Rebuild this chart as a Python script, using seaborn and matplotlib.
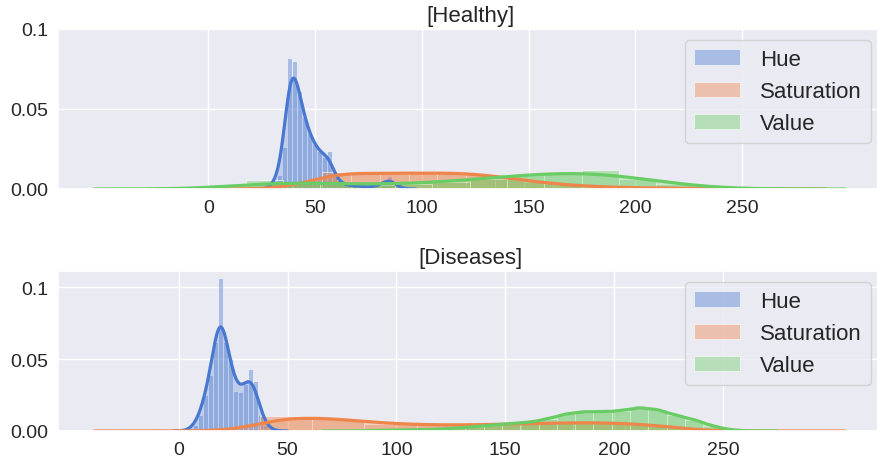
import matplotlib
matplotlib.use("Agg")
import matplotlib.pyplot as plt
import numpy as np
import seaborn as sns


# bar centres and bar heights (density units)
HEALTHY_HUE_X = [30.7, 33.0, 35.4, 37.7, 40.1, 42.4, 44.8, 47.1, 49.5, 51.8, 54.2, 56.5, 58.9,
                 61.2, 63.6, 65.9, 68.3, 70.6, 73.0, 75.3, 77.7, 80.0, 82.4, 84.7, 87.1, 89.4]
HEALTHY_HUE_Y = [0.004, 0.009, 0.026, 0.082, 0.080, 0.061, 0.045, 0.035, 0.028, 0.024, 0.020, 0.024, 0.008,
                 0.004, 0.003, 0.002, 0.002, 0.002, 0.001, 0.001, 0.002, 0.002, 0.004, 0.008, 0.003, 0.001]

HEALTHY_SAT_X = [33.0, 46.5, 60.0, 73.5, 87.0, 100.5, 114.0, 127.5, 141.0,
                 154.5, 168.0, 181.5, 195.0, 208.5, 222.0, 235.5, 249.0]
HEALTHY_SAT_Y = [0.0004, 0.0040, 0.0105, 0.0095, 0.0100, 0.0098, 0.0102, 0.0092, 0.0068,
                 0.0042, 0.0025, 0.0014, 0.0009, 0.0006, 0.0004, 0.0003, 0.0003]

HEALTHY_VAL_X = [26.2, 43.7, 61.2, 78.7, 96.2, 113.6, 131.1, 148.6, 166.1, 183.6, 201.1, 218.6]
HEALTHY_VAL_Y = [0.0058, 0.0040, 0.0030, 0.0025, 0.0032, 0.0045, 0.0065, 0.0095, 0.0105, 0.0119, 0.0065, 0.0030]

DISEASED_HUE_X = [5.3, 7.6, 9.9, 12.2, 14.5, 16.8, 19.1, 21.4, 23.7, 26.0, 28.3, 30.6,
                  32.9, 35.2, 37.5, 39.8, 42.1]
DISEASED_HUE_Y = [0.001, 0.004, 0.011, 0.025, 0.039, 0.062, 0.1065, 0.062, 0.050, 0.028, 0.027, 0.033,
                  0.043, 0.035, 0.011, 0.004, 0.001]

DISEASED_SAT_X = [49.4, 73.3, 97.3, 121.2, 145.2, 169.1, 193.1, 217.0]
DISEASED_SAT_Y = [0.0102, 0.0084, 0.0050, 0.0040, 0.0045, 0.0055, 0.0060, 0.0045]

DISEASED_VAL_X = [85.5, 93.9, 102.3, 110.7, 119.1, 127.5, 135.9, 144.3, 152.7, 161.1, 169.5,
                  177.9, 186.3, 194.7, 203.1, 211.5, 219.9, 228.3, 236.7, 245.1, 253.5]
DISEASED_VAL_Y = [0.0003, 0.0004, 0.0006, 0.0008, 0.0012, 0.0020, 0.0030, 0.0042, 0.0052, 0.0060, 0.0085,
                  0.0120, 0.0135, 0.0135, 0.0140, 0.0165, 0.0150, 0.0110, 0.0080, 0.0035, 0.0008]

LABELS = ["Hue", "Saturation", "Value"]
YTICKS = [0, 0.05, 0.1]
YTICK_LABELS = ["0.00", "0.05", "0.1"]
XTICKS = [0, 50, 100, 150, 200, 250]

# bin width, kde bandwidth and kde extent for each series
HEALTHY_KDE = [(2.35, 2.5, (23, 97)), (13.5, 11, (-10, 289)), (17.5, 22, (-53.6, 298.4))]
DISEASED_KDE = [(2.3, 2.8, (-2.5, 50)), (23.95, 15, (-38.7, 306)), (8.4, 4.5, (66, 275))]

sns.set_theme(style="darkgrid", palette="muted")
plt.rcParams["font.family"] = ["Liberation Sans", "DejaVu Sans"]
COLORS = sns.color_palette("muted")[:3]


def draw_panel(ax, series, settings, title, xlim, ylim):
    handles = []
    for (xs, ys), (width, bw, clip), color in zip(series, settings, COLORS):
        xs = np.asarray(xs, dtype=float)
        ys = np.asarray(ys, dtype=float)
        sd = np.sqrt(np.cov(xs, aweights=ys))
        sns.histplot(
            x=xs, weights=ys, binwidth=width,
            binrange=(xs[0] - width / 2, xs[-1] + width / 2),
            stat="count", kde=True,
            kde_kws=dict(bw_method=bw / sd, cut=40, clip=clip, gridsize=500),
            line_kws=dict(lw=2.3),
            color=color, alpha=0.4, edgecolor="white", linewidth=0.4, ax=ax,
        )
        handles.append(ax.containers[-1])
        line = ax.lines[-1]
        lx, ly = line.get_data()
        ax.fill_between(lx, ly, color=color, alpha=0.25, linewidth=0)

    ax.set_xlim(*xlim)
    ax.set_ylim(*ylim)
    ax.set_xticks(XTICKS)
    ax.set_yticks(YTICKS)
    ax.set_yticklabels(YTICK_LABELS)
    ax.tick_params(labelsize=14, length=0, pad=7)
    ax.set_xlabel("")
    ax.set_ylabel("")
    ax.set_title(title, fontsize=16)
    ax.legend(handles, LABELS, loc="upper right", fontsize=16,
              handlelength=2.1, handletextpad=0.9)


fig, axes = plt.subplots(2, 1, figsize=(8.77, 4.6), dpi=100)
W, H = 877, 460
axes[0].set_position([58 / W, 1 - 190 / H, (882 - 58) / W, 160 / H])
axes[1].set_position([58 / W, 1 - 432 / H, (882 - 58) / W, 160 / H])

draw_panel(axes[0],
           [(HEALTHY_HUE_X, HEALTHY_HUE_Y), (HEALTHY_SAT_X, HEALTHY_SAT_Y), (HEALTHY_VAL_X, HEALTHY_VAL_Y)],
           HEALTHY_KDE, "[Healthy]", (-70.5, 315.5), (0, 0.1))
draw_panel(axes[1],
           [(DISEASED_HUE_X, DISEASED_HUE_Y), (DISEASED_SAT_X, DISEASED_SAT_Y), (DISEASED_VAL_X, DISEASED_VAL_Y)],
           DISEASED_KDE, "[Diseases]", (-55.4, 323), (0, 0.1114))

fig.savefig("out.png", dpi=100)
